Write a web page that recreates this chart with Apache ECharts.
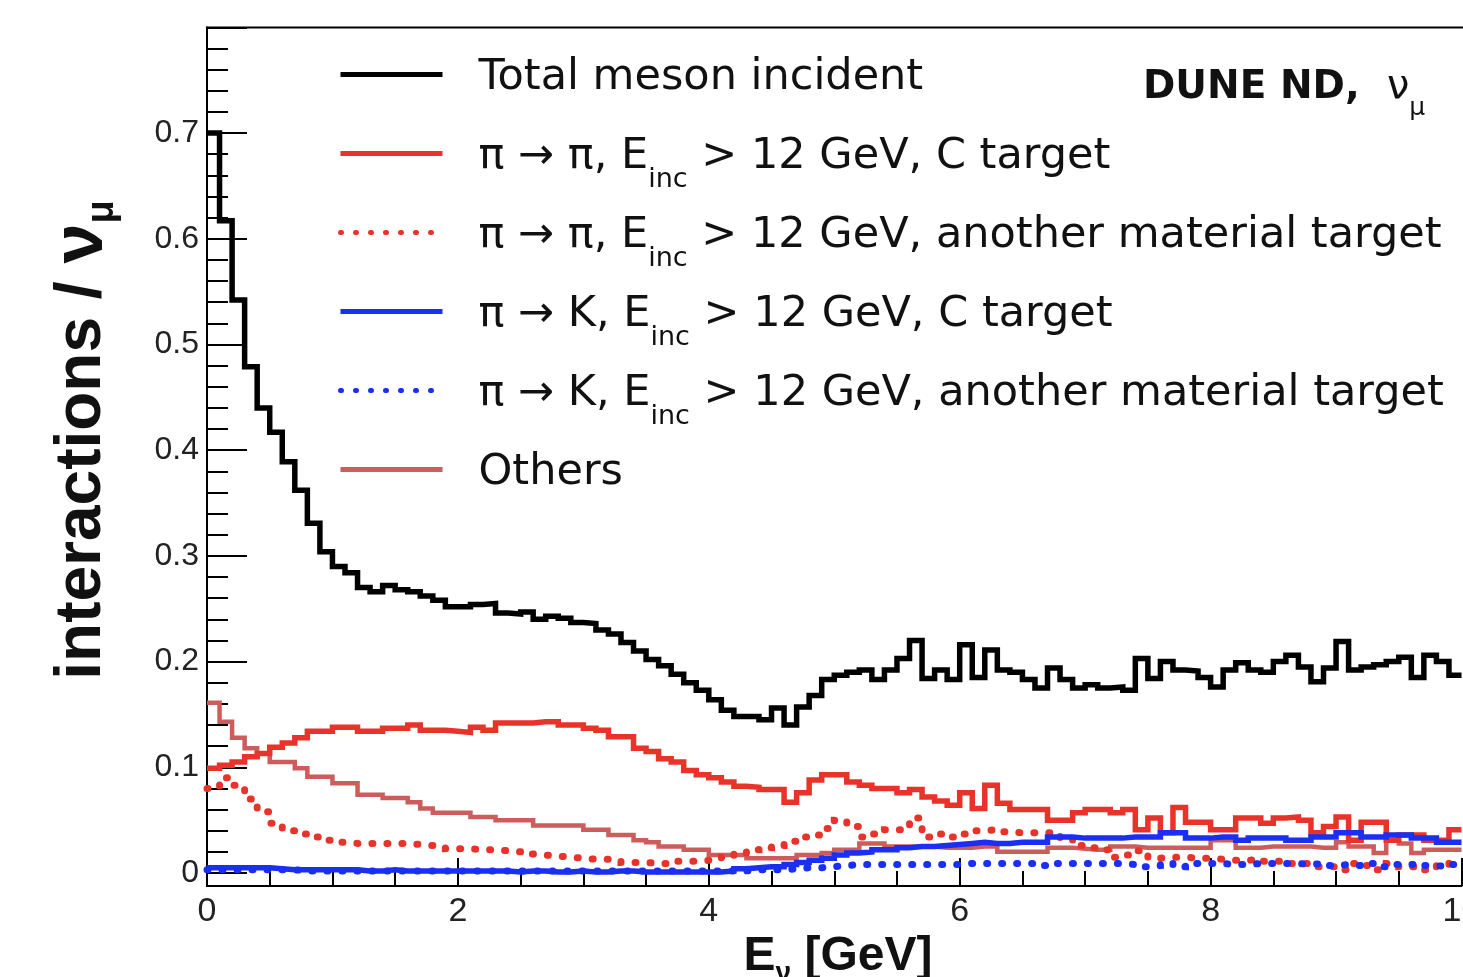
<!DOCTYPE html>
<html>
<head>
<meta charset="utf-8">
<title>DUNE ND meson interactions</title>
<script src="https://cdn.jsdelivr.net/npm/echarts@6.0.0/dist/echarts.min.js"></script>
<style>
  html, body { margin: 0; padding: 0; background: #fff; }
  #chart { width: 1463px; height: 977px; }
</style>
</head>
<body>
<div id="chart"></div>
<script>
// histogram binning: 100 bins of 0.1 GeV from 0 to 10 GeV
var BIN_WIDTH = 0.1;

// bin contents (interactions / nu_mu)
var totalMeson = [
  0.700, 0.617, 0.542, 0.479, 0.440, 0.417, 0.389, 0.362, 0.331, 0.304,
  0.290, 0.284, 0.270, 0.266, 0.272, 0.268, 0.266, 0.262, 0.258, 0.252,
  0.252, 0.254, 0.255, 0.246, 0.245, 0.247, 0.240, 0.243, 0.241, 0.237,
  0.236, 0.230, 0.226, 0.218, 0.210, 0.202, 0.196, 0.188, 0.180, 0.173,
  0.164, 0.154, 0.148, 0.148, 0.145, 0.156, 0.140, 0.157, 0.168, 0.183,
  0.187, 0.190, 0.192, 0.183, 0.192, 0.203, 0.220, 0.184, 0.192, 0.183,
  0.216, 0.185, 0.211, 0.192, 0.190, 0.183, 0.175, 0.194, 0.183, 0.175,
  0.178, 0.175, 0.176, 0.173, 0.203, 0.184, 0.200, 0.192, 0.191, 0.185,
  0.176, 0.192, 0.199, 0.192, 0.190, 0.200, 0.206, 0.195, 0.181, 0.194,
  0.219, 0.192, 0.195, 0.197, 0.200, 0.204, 0.185, 0.206, 0.200, 0.187
];
var piPiC = [
  0.099, 0.102, 0.105, 0.110, 0.113, 0.119, 0.123, 0.128, 0.134, 0.134,
  0.138, 0.138, 0.134, 0.134, 0.137, 0.137, 0.140, 0.135, 0.135, 0.134,
  0.133, 0.138, 0.135, 0.142, 0.142, 0.142, 0.143, 0.143, 0.140, 0.140,
  0.137, 0.135, 0.129, 0.129, 0.118, 0.115, 0.108, 0.105, 0.097, 0.093,
  0.090, 0.086, 0.082, 0.081, 0.079, 0.079, 0.067, 0.076, 0.088, 0.093,
  0.093, 0.086, 0.083, 0.080, 0.080, 0.076, 0.079, 0.072, 0.068, 0.064,
  0.076, 0.061, 0.083, 0.066, 0.060, 0.060, 0.060, 0.050, 0.050, 0.057,
  0.060, 0.060, 0.057, 0.060, 0.041, 0.052, 0.038, 0.062, 0.048, 0.048,
  0.041, 0.041, 0.052, 0.052, 0.047, 0.052, 0.053, 0.050, 0.038, 0.044,
  0.053, 0.031, 0.048, 0.048, 0.031, 0.036, 0.036, 0.031, 0.031, 0.041
];
var piPiOther = [
  0.080, 0.090, 0.083, 0.070, 0.058, 0.047, 0.040, 0.037, 0.034, 0.031,
  0.029, 0.028, 0.028, 0.028, 0.028, 0.028, 0.027, 0.026, 0.025, 0.023,
  0.023, 0.022, 0.022, 0.021, 0.020, 0.018, 0.017, 0.016, 0.015, 0.014,
  0.013, 0.013, 0.012, 0.010, 0.010, 0.009, 0.009, 0.011, 0.011, 0.012,
  0.013, 0.015, 0.018, 0.022, 0.024, 0.026, 0.030, 0.034, 0.036, 0.042,
  0.050, 0.044, 0.034, 0.037, 0.041, 0.041, 0.052, 0.034, 0.037, 0.034,
  0.037, 0.040, 0.041, 0.039, 0.038, 0.038, 0.038, 0.038, 0.032, 0.026,
  0.024, 0.022, 0.015, 0.017, 0.021, 0.014, 0.015, 0.015, 0.014, 0.014,
  0.013, 0.012, 0.012, 0.013, 0.011, 0.011, 0.009, 0.009, 0.006, 0.006,
  0.003, 0.009, 0.007, 0.003, 0.009, 0.006, 0.006, 0.003, 0.008, 0.010
];
var piKC = [
  0.005, 0.005, 0.005, 0.005, 0.005, 0.004, 0.003, 0.003, 0.003, 0.003,
  0.003, 0.003, 0.002, 0.002, 0.003, 0.002, 0.002, 0.002, 0.002, 0.002,
  0.002, 0.002, 0.002, 0.002, 0.001, 0.002, 0.002, 0.001, 0.001, 0.002,
  0.001, 0.001, 0.002, 0.002, 0.001, 0.001, 0.001, 0.001, 0.001, 0.001,
  0.001, 0.002, 0.004, 0.005, 0.006, 0.006, 0.008, 0.010, 0.012, 0.014,
  0.017, 0.019, 0.020, 0.022, 0.022, 0.024, 0.025, 0.025, 0.026, 0.027,
  0.028, 0.029, 0.028, 0.028, 0.029, 0.029, 0.029, 0.034, 0.034, 0.033,
  0.033, 0.033, 0.033, 0.034, 0.034, 0.034, 0.038, 0.038, 0.033, 0.033,
  0.034, 0.034, 0.031, 0.033, 0.033, 0.033, 0.031, 0.031, 0.034, 0.034,
  0.038, 0.038, 0.034, 0.034, 0.036, 0.036, 0.033, 0.033, 0.029, 0.029
];
var piKOther = [
  0.003, 0.003, 0.003, 0.003, 0.003, 0.003, 0.003, 0.002, 0.002, 0.002,
  0.002, 0.002, 0.002, 0.002, 0.002, 0.002, 0.002, 0.002, 0.002, 0.002,
  0.002, 0.002, 0.002, 0.002, 0.002, 0.002, 0.002, 0.002, 0.002, 0.002,
  0.002, 0.002, 0.002, 0.002, 0.002, 0.002, 0.002, 0.002, 0.002, 0.002,
  0.002, 0.002, 0.002, 0.003, 0.003, 0.003, 0.004, 0.005, 0.005, 0.006,
  0.007, 0.008, 0.008, 0.008, 0.008, 0.008, 0.008, 0.008, 0.008, 0.008,
  0.009, 0.009, 0.009, 0.009, 0.009, 0.009, 0.007, 0.009, 0.009, 0.009,
  0.009, 0.009, 0.009, 0.008, 0.006, 0.007, 0.009, 0.006, 0.009, 0.009,
  0.009, 0.008, 0.008, 0.009, 0.009, 0.009, 0.009, 0.008, 0.009, 0.007,
  0.008, 0.007, 0.009, 0.006, 0.008, 0.008, 0.009, 0.007, 0.006, 0.008
];
var others = [
  0.161, 0.143, 0.128, 0.118, 0.113, 0.105, 0.105, 0.099, 0.091, 0.091,
  0.085, 0.085, 0.074, 0.074, 0.071, 0.071, 0.067, 0.061, 0.057, 0.057,
  0.057, 0.053, 0.053, 0.050, 0.050, 0.050, 0.045, 0.045, 0.045, 0.045,
  0.041, 0.041, 0.036, 0.036, 0.031, 0.029, 0.025, 0.025, 0.022, 0.022,
  0.017, 0.017, 0.017, 0.014, 0.014, 0.014, 0.014, 0.017, 0.017, 0.019,
  0.022, 0.022, 0.028, 0.028, 0.025, 0.025, 0.025, 0.025, 0.024, 0.024,
  0.024, 0.025, 0.025, 0.020, 0.020, 0.020, 0.020, 0.024, 0.024, 0.023,
  0.022, 0.022, 0.025, 0.025, 0.024, 0.024, 0.024, 0.024, 0.024, 0.024,
  0.031, 0.031, 0.024, 0.024, 0.025, 0.025, 0.025, 0.025, 0.024, 0.024,
  0.029, 0.025, 0.025, 0.019, 0.031, 0.028, 0.019, 0.022, 0.022, 0.022
];

var seriesNames = [
  'Total meson incident',
  'π → π, Einc > 12 GeV, C target',
  'π → π, Einc > 12 GeV, another material target',
  'π → K, Einc > 12 GeV, C target',
  'π → K, Einc > 12 GeV, another material target',
  'Others'
];
var legendLabels = [
  'Total meson incident',
  'π → π, E{s|inc} > 12 GeV, C target',
  'π → π, E{s|inc} > 12 GeV, another material target',
  'π → K, E{s|inc} > 12 GeV, C target',
  'π → K, E{s|inc} > 12 GeV, another material target',
  'Others'
];
var xTicks = { min: 0, max: 10, interval: 2 };
var yTicks = { min: 0, max: 0.8, interval: 0.1 };

// left bin edges + closing point, drawn as a step line
function toSteps(values) {
  var pts = values.map(function (v, i) {
    return [+(i * BIN_WIDTH).toFixed(2), v];
  });
  pts.push([+(values.length * BIN_WIDTH).toFixed(2), values[values.length - 1]]);
  return pts;
}

var RED = '#e8332a', BLUE = '#1a2ff2', OTHERS = '#cd5c5c';
var DOT = [1, 14];

function histo(name, values, color, width, type) {
  return {
    name: name,
    type: 'line',
    step: 'end',
    symbol: 'none',
    showSymbol: false,
    data: toSteps(values),
    lineStyle: { color: color, width: width, type: type || 'solid', cap: type ? 'round' : 'butt', join: 'miter' },
    itemStyle: { color: color },
    emphasis: { disabled: true }
  };
}

var chart = echarts.init(document.getElementById('chart'));

var option = {
  animation: false,
  backgroundColor: '#fff',
  grid: { left: 207, right: 1.5, top: 27.4, bottom: 104, containLabel: false, outerBoundsMode: 'none' },
  xAxis: {
    type: 'value',
    min: xTicks.min, max: xTicks.max, interval: xTicks.interval,
    offset: 13,
    axisLine: { show: true, onZero: false, lineStyle: { color: '#000', width: 2 } },
    axisTick: { show: true, inside: true, length: 28, lineStyle: { color: '#000', width: 2 } },
    minorTick: { show: true, splitNumber: 4, length: 15, lineStyle: { color: '#000', width: 2 } },
    axisLabel: { margin: 9, fontSize: 34, color: '#222', fontFamily: 'Liberation Sans' },
    splitLine: { show: false }
  },
  yAxis: {
    type: 'value',
    min: yTicks.min, max: yTicks.max, interval: yTicks.interval,
    axisLine: { show: true, onZero: false, lineStyle: { color: '#000', width: 2 } },
    axisTick: { show: true, inside: true, length: 40, lineStyle: { color: '#000', width: 2 } },
    minorTick: { show: true, splitNumber: 5, length: 21, lineStyle: { color: '#000', width: 2 } },
    axisLabel: { margin: 8, fontSize: 32, color: '#222', fontFamily: 'Liberation Sans', showMaxLabel: false },
    splitLine: { show: false }
  },
  legend: {
    show: true,
    orient: 'vertical',
    left: 338,
    top: 35,
    padding: 0,
    itemGap: 0,
    itemWidth: 102,
    itemHeight: 10,
    selectedMode: false,
    data: seriesNames.slice(),
    lineStyle: { width: 5 },
    itemStyle: { color: 'rgba(0,0,0,0)', borderWidth: 0, opacity: 0 },
    formatter: function (name) {
      return legendLabels[seriesNames.indexOf(name)];
    },
    textStyle: {
      fontFamily: 'DejaVu Sans',
      fontSize: 43,
      lineHeight: 73,
      color: '#111',
      padding: [6, 0, 0, 31],
      rich: {
        s: { fontFamily: 'DejaVu Sans', fontSize: 27, lineHeight: 27, padding: [46, 0, 0, 0], color: '#111' }
      }
    }
  },
  series: [
    histo(seriesNames[5], others, OTHERS, 4.5),
    histo(seriesNames[2], piPiOther, RED, 7, DOT),
    histo(seriesNames[4], piKOther, BLUE, 7, DOT),
    histo(seriesNames[1], piPiC, RED, 5.5),
    histo(seriesNames[3], piKC, BLUE, 5.5),
    histo(seriesNames[0], totalMeson, '#000', 5.5)
  ],
  graphic: [
    // frame: top edge and the bit of left edge below y = 0
    { type: 'line', silent: true, shape: { x1: 206, y1: 27.4, x2: 1463, y2: 27.4 }, style: { stroke: '#000', lineWidth: 2 } },
    { type: 'line', silent: true, shape: { x1: 207, y1: 872, x2: 207, y2: 887 }, style: { stroke: '#000', lineWidth: 2 } },
    {
      type: 'text', silent: true, x: 82, y: 440, rotation: Math.PI / 2,
      style: {
        text: 'interactions / {n|ν}{s|μ}',
        fontFamily: 'Liberation Sans', fontWeight: 'bold', fontSize: 64, lineHeight: 80,
        fill: '#111', align: 'center', verticalAlign: 'middle',
        rich: {
          n: { fontFamily: 'Liberation Sans', fontWeight: 'bold', fontSize: 72, lineHeight: 80, fill: '#111' },
          s: { fontFamily: 'Liberation Sans', fontWeight: 'bold', fontSize: 38, lineHeight: 38, padding: [42, 0, 0, 0], fill: '#111' }
        }
      }
    },
    {
      type: 'text', silent: true, x: 838, y: 957,
      style: {
        text: 'E{s|ν} [GeV]',
        fontFamily: 'Liberation Sans', fontWeight: 'bold', fontSize: 48, lineHeight: 60,
        fill: '#111', align: 'center', verticalAlign: 'middle',
        rich: { s: { fontFamily: 'Liberation Sans', fontWeight: 'bold', fontSize: 28, lineHeight: 28, padding: [32, 0, 0, 0], fill: '#111' } }
      }
    },
    {
      type: 'text', silent: true, x: 1143, y: 88,
      style: {
        text: 'DUNE ND,  {n|ν}{s|μ}',
        fontFamily: 'DejaVu Sans', fontWeight: 'bold', fontSize: 39, lineHeight: 56,
        fill: '#111', align: 'left', verticalAlign: 'middle',
        rich: {
          n: { fontFamily: 'DejaVu Sans', fontSize: 40, lineHeight: 56, fill: '#111' },
          s: { fontFamily: 'DejaVu Sans', fontSize: 25, lineHeight: 25, padding: [40, 0, 0, 0], fill: '#111' }
        }
      }
    }
  ]
};

chart.setOption(option);
</script>
</body>
</html>
